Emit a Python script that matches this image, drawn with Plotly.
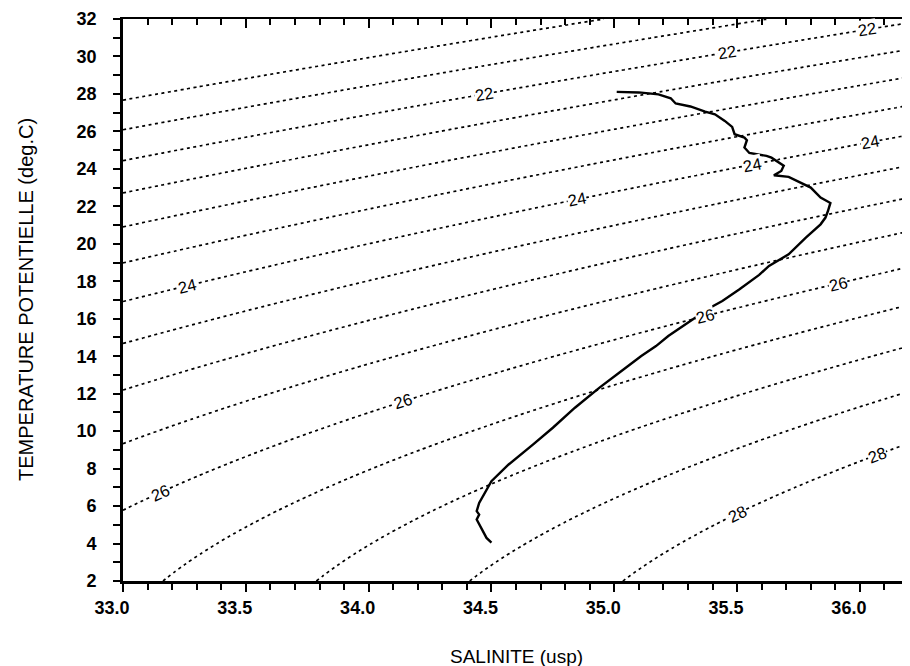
import numpy as np
import plotly.graph_objects as go

# ---------------- data ----------------
# T-S profile (salinity, potential temperature)
sal = [35.01, 35.10, 35.18, 35.23, 35.25, 35.31, 35.37, 35.41, 35.45, 35.48,
       35.49, 35.53, 35.54, 35.53, 35.55, 35.62, 35.64, 35.69, 35.68, 35.65,
       35.71, 35.80, 35.84, 35.88, 35.87, 35.86, 35.84, 35.78, 35.71, 35.63,
       35.59, 35.51, 35.44, 35.39, 35.31, 35.22, 35.17, 35.11, 35.02, 34.94,
       34.84, 34.75, 34.67, 34.57, 34.50, 34.47, 34.45, 34.44, 34.45, 34.44,
       34.46, 34.48, 34.50]
temp = [28.11, 28.08, 27.98, 27.77, 27.49, 27.33, 27.06, 26.91, 26.56, 26.24,
        25.85, 25.67, 25.53, 25.14, 24.85, 24.69, 24.60, 24.17, 23.89, 23.66,
        23.57, 23.00, 22.47, 22.18, 21.75, 21.40, 21.04, 20.33, 19.44, 18.82,
        18.34, 17.57, 16.95, 16.59, 15.88, 15.08, 14.54, 14.01, 13.12, 12.32,
        11.25, 10.18, 9.29, 8.22, 7.33, 6.62, 6.17, 5.73, 5.55, 5.28,
        4.75, 4.30, 4.05]

# isopycnal (sigma-theta) contour levels
sigma_start, sigma_end, sigma_step = 21.0, 28.0, 0.5

# contour labels: isopycnal value and salinity where the label sits
label_levels = [22, 22, 22, 24, 24, 24, 24, 26, 26, 26, 26, 28, 28]
label_sal = [34.47, 35.46, 36.03, 33.26, 34.85, 35.56, 36.04,
             33.15, 34.14, 35.37, 35.91, 35.50, 36.07]

x_range = [33.0, 36.2]
y_range = [2, 32]
x_ticks = [33.0, 33.5, 34.0, 34.5, 35.0, 35.5, 36.0]
y_ticks = list(range(2, 33, 2))

x_title = "SALINITE (usp)"
y_title = "TEMPERATURE POTENTIELLE (deg.C)"


# ---------------- equation of state (UNESCO 1980, p = 0) ----------------
def sigma0(S, T):
    rw = (999.842594 + 6.793952e-2 * T - 9.095290e-3 * T**2 + 1.001685e-4 * T**3
          - 1.120083e-6 * T**4 + 6.536332e-9 * T**5)
    A = (8.24493e-1 - 4.0899e-3 * T + 7.6438e-5 * T**2 - 8.2467e-7 * T**3
         + 5.3875e-9 * T**4)
    B = -5.72466e-3 + 1.0227e-4 * T - 1.6546e-6 * T**2
    C = 4.8314e-4
    return rw + A * S + B * S**1.5 + C * S**2 - 1000.0


S_grid = np.linspace(x_range[0], x_range[1], 241)
T_grid = np.linspace(y_range[0], y_range[1], 241)
SS, TT = np.meshgrid(S_grid, T_grid)
Z = sigma0(SS, TT)

# layout geometry
W, H = 910, 666
ML, MR, MT, MB = 115, 9, 11, 93
plot_w = W - ML - MR
plot_h = H - MT - MB
px_per_S = plot_w / (x_range[1] - x_range[0])
px_per_T = plot_h / (y_range[1] - y_range[0])


def temp_on_isopycnal(S, level):
    lo, hi = -2.0, 40.0
    for _ in range(80):
        mid = 0.5 * (lo + hi)
        if sigma0(S, mid) > level:
            lo = mid
        else:
            hi = mid
    return 0.5 * (lo + hi)


font_family = "Liberation Sans, Arial, sans-serif"

fig = go.Figure()

fig.add_trace(go.Contour(
    x=S_grid, y=T_grid, z=Z,
    autocontour=False,
    contours=dict(start=sigma_start, end=sigma_end, size=sigma_step,
                  coloring="none", showlabels=False),
    line=dict(color="black", width=1.7, dash="3px,3.5px"),
    showscale=False, hoverinfo="skip",
))

fig.add_trace(go.Scatter(
    x=sal, y=temp, mode="lines",
    line=dict(color="black", width=2.4),
    hoverinfo="skip", showlegend=False,
))

# dummy trace to activate the top axis
fig.add_trace(go.Scatter(
    x=x_range, y=y_range, xaxis="x2", mode="markers",
    marker=dict(opacity=0), hoverinfo="skip", showlegend=False,
))

annotations = []
for lev, s in zip(label_levels, label_sal):
    t = temp_on_isopycnal(s, lev)
    dS = (sigma0(s + 1e-4, t) - sigma0(s - 1e-4, t)) / 2e-4
    dT = (sigma0(s, t + 1e-4) - sigma0(s, t - 1e-4)) / 2e-4
    slope = -dS / dT
    ang = -np.degrees(np.arctan(slope * px_per_T / px_per_S))
    annotations.append(dict(
        x=s, y=t, xref="x", yref="y", text=str(lev), showarrow=False,
        textangle=ang, bgcolor="white", borderpad=0,
        font=dict(family=font_family, size=16.5, color="black"),
    ))

annotations.append(dict(
    x=0.5, y=0, xref="paper", yref="paper", text=x_title, showarrow=False,
    xanchor="center", yanchor="middle", yshift=-75,
    font=dict(family=font_family, size=19, color="black"),
))
annotations.append(dict(
    x=0, y=0.5, xref="paper", yref="paper", text=y_title, showarrow=False,
    xanchor="center", yanchor="middle", xshift=-(ML - 18), textangle=-90,
    font=dict(family=font_family, size=20, color="black"),
))

tick_font = dict(family=font_family, size=18, color="black", weight="bold")

fig.update_layout(
    width=W, height=H,
    margin=dict(l=ML, r=MR, t=MT, b=MB, autoexpand=False),
    paper_bgcolor="white", plot_bgcolor="white",
    showlegend=False,
    annotations=annotations,
    xaxis=dict(
        range=x_range, tickvals=x_ticks,
        ticktext=[f"{v:.1f}" for v in x_ticks],
        ticks="outside", ticklen=8, tickwidth=1.8, tickcolor="black",
        minor=dict(dtick=0.1, tick0=33.0, ticks="outside", ticklen=6,
                   tickwidth=1.5, tickcolor="black"),
        showline=True, linewidth=2.8, linecolor="black", mirror=False,
        showgrid=False, zeroline=False, tickfont=tick_font,
        ticklabelshift=-11,
    ),
    xaxis2=dict(
        range=x_range, overlaying="x", side="top",
        tickvals=x_ticks, showticklabels=False,
        ticks="inside", ticklen=9, tickwidth=1.8, tickcolor="black",
        minor=dict(dtick=0.1, tick0=33.0, ticks="inside", ticklen=6,
                   tickwidth=1.5, tickcolor="black"),
        showline=True, linewidth=2.2, linecolor="black",
        showgrid=False, zeroline=False,
    ),
    yaxis=dict(
        range=y_range, tickvals=y_ticks,
        ticks="outside", ticklen=7, tickwidth=1.8, tickcolor="black",
        minor=dict(dtick=1, tick0=2, ticks="outside", ticklen=6,
                   tickwidth=1.5, tickcolor="black"),
        showline=True, linewidth=2.8, linecolor="black", mirror="allticks",
        showgrid=False, zeroline=False, tickfont=tick_font,
        ticklabelstandoff=13,
    ),
)

fig.write_html("out.html")
